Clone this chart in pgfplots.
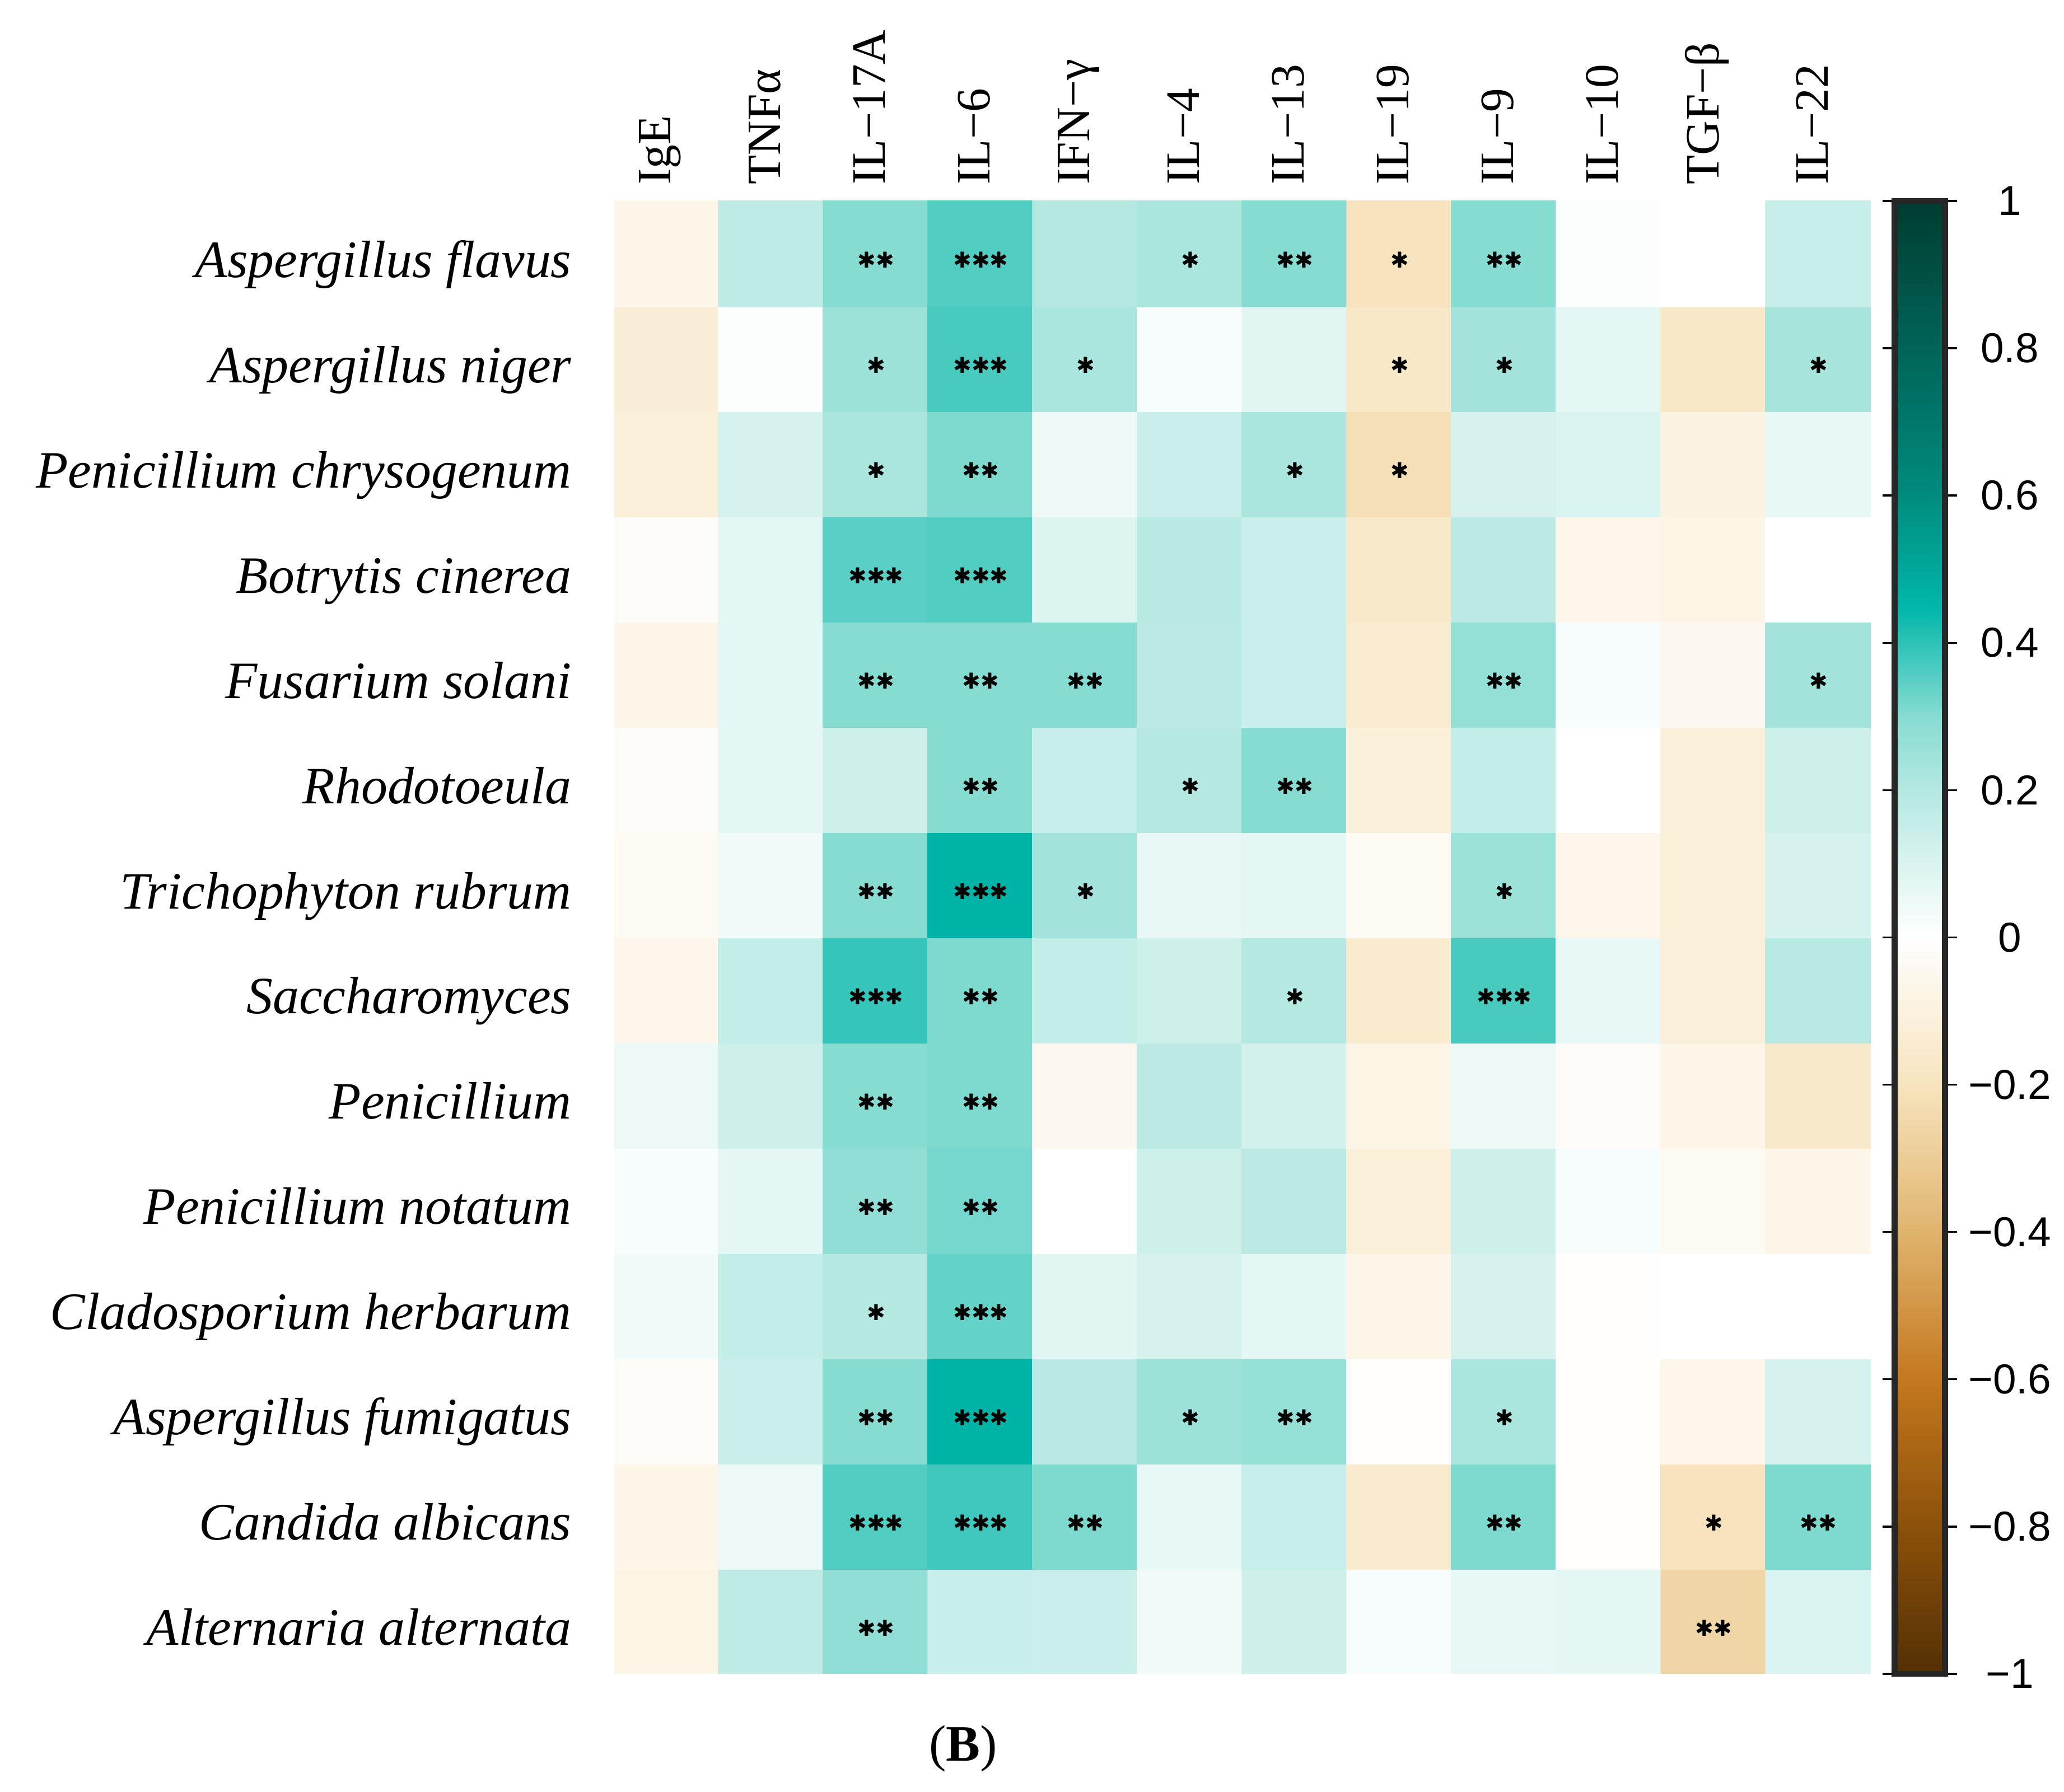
\documentclass[border=0pt]{standalone}
\usepackage{fontspec}
\setmainfont{Liberation Serif}
\newfontfamily\cbfont{Liberation Sans}
\newfontfamily\starfont{DejaVu Sans}
\usepackage{pgfplots}
\pgfplotsset{compat=1.18}

% brown - white - teal, positions = (r+1)*100
\pgfplotsset{colormap={corr}{
  rgb255(0pt)=(84,48,5) rgb255(20pt)=(140,81,10) rgb255(40pt)=(196,120,30)
  rgb255(60pt)=(224,180,110) rgb255(80pt)=(247,228,190) rgb255(100pt)=(255,255,255)
  rgb255(120pt)=(180,232,225) rgb255(130pt)=(135,220,210) rgb255(145pt)=(0,182,170)
  rgb255(160pt)=(0,140,125) rgb255(180pt)=(0,100,88) rgb255(200pt)=(0,60,48)}}

\newcommand{\stars}[1]{\ifcase#1\or ✱\or ✱✱\or ✱✱✱\fi}

\begin{document}
\begin{tikzpicture}
\useasboundingbox (-4.643,-0.889) rectangle (10.957,12.654);
\begin{axis}[
  name=hm, at={(0,0)}, anchor=south west,
  width=9.497cm, height=11.135cm, scale only axis,
  xmin=-0.5, xmax=11.5, ymin=-0.5, ymax=13.5,
  axis line style={draw=none}, major tick length=0pt,
  xtick={0,...,11}, xticklabel pos=upper,
  xticklabels={IgE,TNFα,IL−17A,IL−6,IFN−γ,IL−4,IL−13,IL−19,IL−9,IL−10,TGF−β,IL−22},
  xticklabel style={rotate=90, anchor=west, font=\fontsize{10.3}{12}\selectfont, yshift=0.05cm},
  ytick={0,...,13},
  yticklabels={Alternaria alternata,Candida albicans,Aspergillus fumigatus,Cladosporium herbarum,
    Penicillium notatum,Penicillium,Saccharomyces,Trichophyton rubrum,Rhodotoeula,Fusarium solani,
    Botrytis cinerea,Penicillium chrysogenum,Aspergillus niger,Aspergillus flavus},
  yticklabel style={anchor=base east, font=\itshape\fontsize{11.3}{13}\selectfont, xshift=-0.2cm, yshift=-0.18cm},
  colormap name=corr, point meta min=-1, point meta max=1,
  colorbar,
  colorbar style={
    at={(parent axis.north east)}, anchor=north west, xshift=-0.12cm,
    width=0.38cm, height=11.135cm,
    ytick={-1,-0.8,-0.6,-0.4,-0.2,0,0.2,0.4,0.6,0.8,1},
    yticklabels={−1,−0.8,−0.6,−0.4,−0.2,0,0.2,0.4,0.6,0.8,1},
    yticklabel style={font=\cbfont\fontsize{9}{10}\selectfont, anchor=center, xshift=0.4cm},
    axis line style={line width=1.3pt, black!85},
    tick align=outside, major tick length=0.09cm,
    ytick style={draw=black, line width=0.4pt},
  },
]
\addplot[matrix plot*, mesh/cols=12, point meta=explicit] coordinates {
(0,0)[-0.08] (1,0)[0.17] (2,0)[0.28] (3,0)[0.15] (4,0)[0.14] (5,0)[0.04] (6,0)[0.13] (7,0)[0.02] (8,0)[0.06] (9,0)[0.07] (10,0)[-0.26] (11,0)[0.10]
(0,1)[-0.07] (1,1)[0.05] (2,1)[0.36] (3,1)[0.38] (4,1)[0.31] (5,1)[0.06] (6,1)[0.15] (7,1)[-0.15] (8,1)[0.31] (9,1)[-0.01] (10,1)[-0.20] (11,1)[0.31]
(0,2)[-0.02] (1,2)[0.14] (2,2)[0.30] (3,2)[0.46] (4,2)[0.19] (5,2)[0.25] (6,2)[0.27] (7,2)[-0.01] (8,2)[0.22] (9,2)[-0.01] (10,2)[-0.06] (11,2)[0.11]
(0,3)[0.04] (1,3)[0.16] (2,3)[0.20] (3,3)[0.34] (4,3)[0.08] (5,3)[0.11] (6,3)[0.07] (7,3)[-0.07] (8,3)[0.11] (9,3)[-0.01] (10,3)[0.00] (11,3)[0.00]
(0,4)[0.02] (1,4)[0.07] (2,4)[0.28] (3,4)[0.32] (4,4)[0.00] (5,4)[0.13] (6,4)[0.18] (7,4)[-0.12] (8,4)[0.13] (9,4)[0.02] (10,4)[-0.04] (11,4)[-0.07]
(0,5)[0.05] (1,5)[0.13] (2,5)[0.30] (3,5)[0.31] (4,5)[-0.05] (5,5)[0.18] (6,5)[0.12] (7,5)[-0.08] (8,5)[0.05] (9,5)[-0.02] (10,5)[-0.07] (11,5)[-0.16]
(0,6)[-0.06] (1,6)[0.16] (2,6)[0.39] (3,6)[0.31] (4,6)[0.16] (5,6)[0.13] (6,6)[0.20] (7,6)[-0.15] (8,6)[0.37] (9,6)[0.06] (10,6)[-0.12] (11,6)[0.19]
(0,7)[-0.04] (1,7)[0.04] (2,7)[0.30] (3,7)[0.46] (4,7)[0.24] (5,7)[0.06] (6,7)[0.07] (7,7)[-0.03] (8,7)[0.25] (9,7)[-0.06] (10,7)[-0.12] (11,7)[0.11]
(0,8)[-0.02] (1,8)[0.07] (2,8)[0.13] (3,8)[0.30] (4,8)[0.15] (5,8)[0.20] (6,8)[0.30] (7,8)[-0.12] (8,8)[0.16] (9,8)[0.00] (10,8)[-0.12] (11,8)[0.13]
(0,9)[-0.07] (1,9)[0.07] (2,9)[0.30] (3,9)[0.30] (4,9)[0.30] (5,9)[0.18] (6,9)[0.14] (7,9)[-0.14] (8,9)[0.27] (9,9)[0.02] (10,9)[-0.05] (11,9)[0.24]
(0,10)[-0.02] (1,10)[0.07] (2,10)[0.35] (3,10)[0.36] (4,10)[0.09] (5,10)[0.19] (6,10)[0.14] (7,10)[-0.16] (8,10)[0.18] (9,10)[-0.06] (10,10)[-0.08] (11,10)[0.00]
(0,11)[-0.12] (1,11)[0.11] (2,11)[0.22] (3,11)[0.31] (4,11)[0.05] (5,11)[0.14] (6,11)[0.22] (7,11)[-0.22] (8,11)[0.11] (9,11)[0.10] (10,11)[-0.09] (11,11)[0.06]
(0,12)[-0.13] (1,12)[0.01] (2,12)[0.25] (3,12)[0.37] (4,12)[0.22] (5,12)[0.02] (6,12)[0.08] (7,12)[-0.17] (8,12)[0.24] (9,12)[0.07] (10,12)[-0.17] (11,12)[0.23]
(0,13)[-0.07] (1,13)[0.17] (2,13)[0.30] (3,13)[0.36] (4,13)[0.20] (5,13)[0.22] (6,13)[0.30] (7,13)[-0.20] (8,13)[0.30] (9,13)[0.01] (10,13)[0.00] (11,13)[0.15]
};
% significance stars: meta = number of stars
\addplot[draw=none, mark=none, forget plot, point meta=explicit symbolic,
  nodes near coords={\starfont\bfseries\fontsize{4.7}{6}\selectfont\stars{\pgfplotspointmeta}},
  every node near coord/.append style={anchor=center, inner sep=0pt, text=black, yshift=-0.05cm}]
coordinates {
(2,13)[2] (3,13)[3] (5,13)[1] (6,13)[2] (7,13)[1] (8,13)[2]
(2,12)[1] (3,12)[3] (4,12)[1] (7,12)[1] (8,12)[1] (11,12)[1]
(2,11)[1] (3,11)[2] (6,11)[1] (7,11)[1]
(2,10)[3] (3,10)[3]
(2,9)[2] (3,9)[2] (4,9)[2] (8,9)[2] (11,9)[1]
(3,8)[2] (5,8)[1] (6,8)[2]
(2,7)[2] (3,7)[3] (4,7)[1] (8,7)[1]
(2,6)[3] (3,6)[2] (6,6)[1] (8,6)[3]
(2,5)[2] (3,5)[2]
(2,4)[2] (3,4)[2]
(2,3)[1] (3,3)[3]
(2,2)[2] (3,2)[3] (5,2)[1] (6,2)[2] (8,2)[1]
(2,1)[3] (3,1)[3] (4,1)[2] (8,1)[2] (10,1)[1] (11,1)[2]
(2,0)[2] (10,0)[2]
};
\end{axis}
\node[font=\fontsize{11}{13}\selectfont] at (2.637,-0.567) {(\textbf{B})};
\end{tikzpicture}
\end{document}
